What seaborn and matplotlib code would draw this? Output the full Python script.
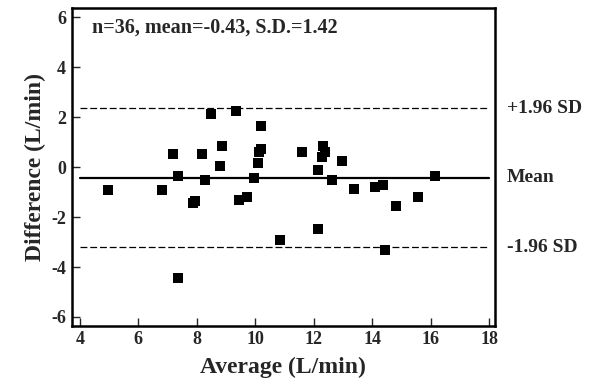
import numpy as np
import pandas as pd
import matplotlib
matplotlib.use("Agg")
import matplotlib.pyplot as plt
import seaborn as sns

# valores (promedio, diferencia)
promedio = [4.97, 6.81, 7.18, 7.36, 7.36, 7.86, 7.94, 8.17, 8.29, 8.47, 8.79, 8.86,
            9.33, 9.44, 9.71, 9.97, 10.08, 10.11, 10.19, 10.20, 10.83, 11.60, 12.13, 12.16,
            12.28, 12.33, 12.39, 12.64, 12.97, 13.37, 14.08, 14.38, 14.42, 14.80, 15.57, 16.15]
diferencia = [-0.92, -0.92, 0.52, -0.37, -4.44, -1.43, -1.35, 0.52, -0.52, 2.13, 0.04, 0.86,
              2.26, -1.32, -1.21, -0.44, 0.18, 0.62, 0.73, 1.66, -2.90, 0.62, -0.12, -2.47,
              0.40, 0.86, 0.62, -0.52, 0.25, -0.87, -0.79, -0.71, -3.30, -1.56, -1.19, -0.37]

n = 36
media = -0.43
sd = 1.42
x_ticks = [4, 6, 8, 10, 12, 14, 16, 18]
y_ticks = [-6, -4, -2, 0, 2, 4, 6]

df = pd.DataFrame({"Average": promedio, "Difference": diferencia})

sns.set_style("ticks")
plt.rcParams['font.family'] = ['Liberation Serif', 'DejaVu Serif']
plt.rcParams['font.weight'] = 'bold'
plt.rcParams['axes.unicode_minus'] = False

fig = plt.figure(figsize=(5.91, 3.87), dpi=100)
ax = fig.add_axes([0.1213, 0.1584, 0.7163, 0.8202])

sup = media + 1.96 * sd
inf = media - 1.96 * sd
ax.plot([4, 18], [media, media], color="black", lw=1.6)
ax.plot([4, 18], [sup, sup], color="black", lw=0.9, dashes=(5.5, 2.3))
ax.plot([4, 18], [inf, inf], color="black", lw=0.9, dashes=(5.5, 2.3))

sns.scatterplot(data=df, x="Average", y="Difference", marker="s", color="black",
                s=62, linewidth=0, ax=ax, zorder=3)

ax.set_xlim(3.72, 18.2)
ax.set_ylim(-6.35, 6.36)
ax.set_xticks(x_ticks)
ax.set_yticks(y_ticks)
ax.tick_params(direction="in", length=6, width=1, labelsize=13, pad=4)
for lab in ax.get_xticklabels() + ax.get_yticklabels():
    lab.set_fontweight("bold")
for s in ax.spines.values():
    s.set_linewidth(1.8)
    s.set_color("black")

ax.set_xlabel("Average (L/min)", fontsize=17, fontweight="bold", labelpad=6)
ax.set_ylabel("Difference (L/min)", fontsize=17, fontweight="bold", labelpad=4)

ax.text(0.047, 0.94, f"n={n}, mean={media:.2f}, S.D.={sd:.2f}", transform=ax.transAxes,
        fontsize=14.5, fontweight="bold", va="center", ha="left")

tr = ax.get_yaxis_transform()
ax.text(1.028, sup, "+1.96 SD", transform=tr, fontsize=14, fontweight="bold", va="center")
ax.text(1.028, media, "Mean", transform=tr, fontsize=14, fontweight="bold", va="center")
ax.text(1.028, inf, "-1.96 SD", transform=tr, fontsize=14, fontweight="bold", va="center")

fig.savefig("out.png", dpi=100)
